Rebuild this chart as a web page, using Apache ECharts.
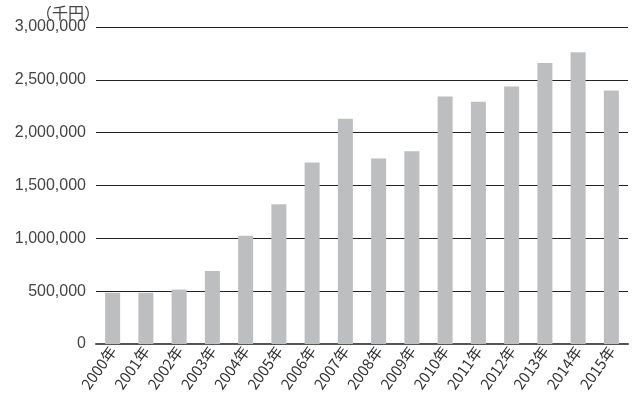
<!DOCTYPE html>
<html>
<head>
<meta charset="utf-8">
<script src="https://cdn.jsdelivr.net/npm/echarts@6/dist/echarts.min.js"></script>
<style>html,body{margin:0;padding:0;background:#fff}#c{width:640px;height:394px}</style>
</head>
<body>
<div id="c"></div>
<script>
var categories = ['2000年','2001年','2002年','2003年','2004年','2005年','2006年','2007年','2008年','2009年','2010年','2011年','2012年','2013年','2014年','2015年'];
var values = [485000, 485000, 515000, 690000, 1025000, 1322000, 1717000, 2131000, 1755000, 1825000, 2343000, 2292000, 2437000, 2659000, 2760000, 2400000];
var unitLabel = '（千円）';

var chart = echarts.init(document.getElementById('c'), null, {renderer: 'canvas'});
chart.setOption({
  animation: false,
  grid: {left: 96, right: 12, top: 27, bottom: 50, containLabel: false, outerBoundsMode: 'none'},
  graphic: [{
    type: 'text', left: 36, top: 5,
    style: {text: unitLabel, fontSize: 16, fill: '#444', fontFamily: '"Noto Sans CJK JP", sans-serif'}
  }],
  xAxis: {
    type: 'category',
    data: categories,
    axisTick: {show: false},
    axisLine: {lineStyle: {color: '#555', width: 2}},
    axisLabel: {
      rotate: 55, margin: 4, fontSize: 15, color: '#333',
      fontFamily: '"Liberation Sans Narrow", "Noto Sans CJK JP", sans-serif',
      interval: 0
    }
  },
  yAxis: {
    type: 'value',
    min: 0, max: 3000000, interval: 500000,
    axisLine: {show: false},
    axisTick: {show: false},
    splitLine: {lineStyle: {color: '#222', width: 1.2}},
    axisLabel: {
      margin: 10, fontSize: 16, color: '#444',
      fontFamily: '"Liberation Sans", Arial, sans-serif',
      formatter: function (v) { return v.toLocaleString('en-US'); }
    }
  },
  series: [{
    type: 'bar',
    data: values,
    barWidth: 15,
    itemStyle: {color: '#bdbec0'}
  }]
});
</script>
</body>
</html>
